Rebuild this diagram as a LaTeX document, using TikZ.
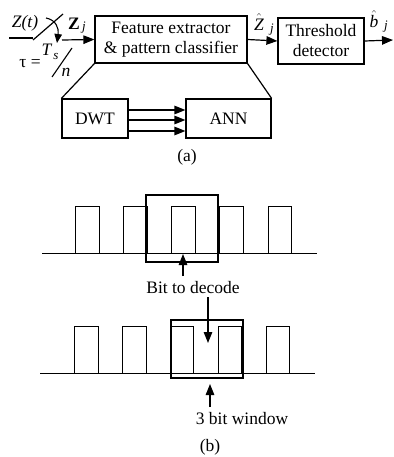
\documentclass[tikz,border=0pt]{standalone}
\usepackage{fontspec}
\setmainfont{Liberation Serif}
\usetikzlibrary{arrows.meta}
\begin{document}
\begin{tikzpicture}[x=1pt,y=-1pt,
  box/.style={draw,line width=1.2pt,inner sep=0pt,align=center,font=\fontsize{17.5}{20}\selectfont},
  arr/.style={-{Triangle[length=11pt,width=8.5pt]},line width=1.2pt},
  sarr/.style={-{Triangle[length=9pt,width=7.5pt]},line width=1.1pt},
  lbl/.style={font=\fontsize{17.5}{20}\selectfont,inner sep=0pt},
  sub/.style={font=\fontsize{13}{14}\selectfont,inner sep=0pt},
  pulse/.style={draw,line width=1pt},
  win/.style={draw,line width=2pt},
]
\useasboundingbox (0,0) rectangle (393,457);
% (a) boxes
\node[box,minimum width=152pt,minimum height=47pt] (feat) at (171,39.5) {Feature extractor\\\& pattern classifier};
\node[box,minimum width=86pt,minimum height=46pt] (thr) at (321,41) {Threshold\\detector};
\node[box,minimum width=66pt,minimum height=39pt] (dwt) at (95,118.5) {DWT};
\node[box,minimum width=85pt,minimum height=39pt] (ann) at (228.5,118.5) {ANN};
% connectors
\draw[arr] (feat.east) -- (thr.west);
\coordinate (out) at (393,40);
\draw[arr] (thr.east) -- (out);
\draw[line width=1.2pt] (feat.south west) -- (dwt.north west);
\draw[line width=1.2pt] (feat.south east) -- (ann.north east);
\foreach \yy in {110,120,131}{
  \draw[arr] (dwt.east |- 0,\yy) -- (ann.west |- 0,\yy);
}
% input switch
\coordinate (zin) at (9,38);
\coordinate (sw) at (33,38);
\draw[line width=1.3pt] (zin) -- (sw);
\coordinate (sa) at (33,40);
\coordinate (sb) at (63,14);
\draw[line width=1.2pt] (sa) -- (sb);
\coordinate (ca) at (46,18);
\coordinate (cb) at (57,43);
\draw[sarr] (ca) .. controls (56,20) and (59,28) .. (cb);
\coordinate (zj) at (62,40);
\draw[arr] (zj) -- (feat.west);
% labels (a)
\node[lbl] (lzt) at (25,23) {\textit{Z(t)}};
\node[lbl] (lzj) at (74,24) {\textbf{Z}};
\node[sub] (lzjs) at (84,28) {\textit{j}};
\node[lbl] (lzh) at (259,22) {$\hat{\mathit{Z}}$};
\node[sub] (lzhs) at (272,30) {\textit{j}};
\node[lbl] (lbh) at (374,19) {$\hat{\mathit{b}}$};
\node[sub] (lbhs) at (386,27) {\textit{j}};
\node[lbl] (ltau) at (30,64) {τ =};
\node[lbl] (lT) at (47,50) {\textit{T}};
\node[sub] (ls) at (56,57) {\textit{s}};
\coordinate (sl1) at (52,77);
\coordinate (sl2) at (72,48);
\draw[line width=1.1pt] (sl1) -- (sl2);
\node[lbl] (ln) at (66,72) {\textit{n}};
\node[lbl] (la) at (187,157) {(a)};
% (b) row 1
\coordinate (b1l) at (42,253);
\coordinate (b1r) at (317,253);
\draw[line width=1pt] (b1l) -- (b1r);
\foreach \xa/\xb in {75/99,123/147,171/195,219/243,268/291}{
  \draw[pulse,fill=white] (\xa,206) rectangle (\xb,253);
}
\draw[win] (146,195) rectangle (218,262);
\node[lbl] (btd) at (193,288) {Bit to decode};
\coordinate (up1a) at (183,276);
\coordinate (up1b) at (183,254);
\draw[arr] (up1a) -- (up1b);
\coordinate (dn1a) at (208,297);
\coordinate (dn1b) at (208,343);
\draw[arr] (dn1a) -- (dn1b);
% (b) row 2
\coordinate (b2l) at (40,373);
\coordinate (b2r) at (315,373);
\draw[line width=1pt] (b2l) -- (b2r);
\foreach \xa/\xb in {74/98,122/146,170/193,218/241,266/289}{
  \draw[pulse,fill=white] (\xa,326) rectangle (\xb,373);
}
\draw[win] (171,320) rectangle (243,378);
\coordinate (up2a) at (210,407);
\coordinate (up2b) at (210,384);
\draw[arr] (up2a) -- (up2b);
\node[lbl] (tbw) at (242,419) {3 bit window};
\node[lbl] (lb) at (210,447) {(b)};
\end{tikzpicture}
\end{document}
